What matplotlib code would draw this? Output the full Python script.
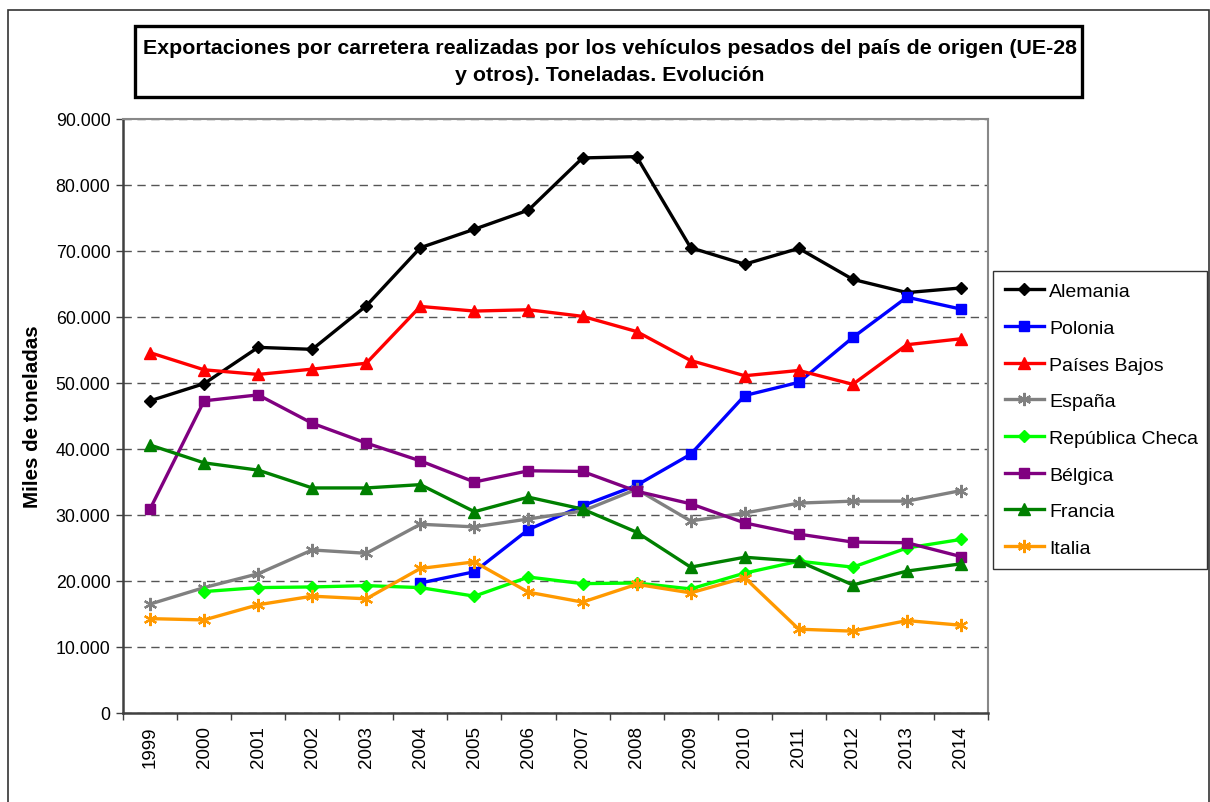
import matplotlib
matplotlib.use("Agg")
import matplotlib.pyplot as plt
from matplotlib.patches import Rectangle
from matplotlib.ticker import FuncFormatter, FixedLocator

plt.rcParams['font.family'] = ['Liberation Sans', 'DejaVu Sans']

years = ["1999", "2000", "2001", "2002", "2003", "2004", "2005", "2006",
         "2007", "2008", "2009", "2010", "2011", "2012", "2013", "2014"]

alemania = [47300, 49900, 55400, 55100, 61700, 70500, 73300, 76200,
            84100, 84300, 70500, 68000, 70400, 65700, 63700, 64400]
polonia = [None, None, None, None, None, 19700, 21400, 27800,
           31400, 34500, 39200, 48100, 50100, 56900, 63000, 61200]
paises_bajos = [54600, 52000, 51300, 52100, 53000, 61600, 60900, 61100,
                60100, 57800, 53400, 51100, 51900, 49800, 55800, 56700]
espana = [16500, 19000, 21100, 24700, 24200, 28600, 28200, 29400,
          30600, 33900, 29100, 30300, 31800, 32100, 32100, 33700]
rep_checa = [None, 18400, 19000, 19100, 19300, 19000, 17700, 20600,
             19600, 19700, 18800, 21200, 23000, 22100, 25000, 26300]
belgica = [30900, 47300, 48200, 43900, 40900, 38200, 35000, 36700,
           36600, 33600, 31700, 28800, 27100, 25900, 25800, 23700]
francia = [40600, 37900, 36800, 34100, 34100, 34600, 30500, 32700,
           30900, 27400, 22100, 23600, 23000, 19400, 21500, 22600]
italia = [14300, 14100, 16400, 17700, 17300, 21900, 22900, 18300,
          16800, 19500, 18200, 20500, 12700, 12400, 14000, 13300]

series = [
    ("Alemania", alemania, "#000000", "D", 6),
    ("Polonia", polonia, "#0000FF", "s", 7.5),
    ("Países Bajos", paises_bajos, "#FF0000", "^", 8),
    ("España", espana, "#808080", (6, 2, 0), 9.5),
    ("República Checa", rep_checa, "#00FF00", "D", 6),
    ("Bélgica", belgica, "#800080", "s", 7.5),
    ("Francia", francia, "#008000", "^", 8),
    ("Italia", italia, "#FF9900", (6, 2, 0), 9.5),
]

W, H = 1210, 803
fig = plt.figure(figsize=(W / 100, H / 100), dpi=100)

def fx(px):
    return px / W

def fy(py):
    return 1 - py / H

ax = fig.add_axes([fx(123), fy(714), fx(988) - fx(123), fy(120) - fy(714)])

x = list(range(len(years)))
handles = []
for name, vals, color, marker, ms in series:
    xs = [xi for xi, v in zip(x, vals) if v is not None]
    ys = [v for v in vals if v is not None]
    mew = 1.6 if isinstance(marker, tuple) else 1.0
    h, = ax.plot(xs, ys, color=color, lw=2.4, marker=marker, ms=ms,
                 markeredgecolor=color, markerfacecolor=color, mew=mew,
                 label=name, solid_joinstyle='round')
    handles.append(h)

ax.set_xlim(-0.5, len(years) - 0.5)
ax.set_ylim(0, 90000)
ax.yaxis.set_major_locator(FixedLocator(range(0, 90001, 10000)))
ax.yaxis.set_major_formatter(FuncFormatter(lambda v, p: f"{int(v):,}".replace(",", ".")))
ax.set_xticks(x)
ax.set_xticklabels(years, rotation=90, fontsize=13.5)
ax.set_xticks([i - 0.5 for i in range(len(years) + 1)], minor=True)
ax.tick_params(axis='x', which='major', length=0, pad=9)
ax.tick_params(axis='x', which='minor', length=5, width=1, color='#404040', direction='out')
ax.tick_params(axis='y', which='major', length=5, width=1, color='#404040', labelsize=12.8, pad=4)

ax.grid(axis='y', which='major', linestyle=(0, (6, 4)), color='#555555', lw=1)
ax.set_axisbelow(True)
for s in ['top', 'right']:
    ax.spines[s].set_color('#888888')
    ax.spines[s].set_linewidth(1.5)
for s in ['left', 'bottom']:
    ax.spines[s].set_color('#404040')
    ax.spines[s].set_linewidth(1.8)

ax.set_ylabel("Miles de toneladas", fontsize=14.8, fontweight='bold')
ax.yaxis.set_label_coords((42 - 123) / 865, 0.5)

# Outer frame
fig.patches.append(Rectangle((fx(8), -0.02), fx(1209) - fx(8), fy(11) + 0.02,
                             transform=fig.transFigure, fill=False,
                             edgecolor='#333333', lw=1.2))

# Title box
fig.patches.append(Rectangle((fx(135), fy(98)), fx(1082) - fx(135), fy(27) - fy(98),
                             transform=fig.transFigure, fill=False,
                             edgecolor='#000000', lw=2.4))
fig.text(fx(610), fy(62),
         "Exportaciones por carretera realizadas por los vehículos pesados del país de origen (UE-28\n"
         "y otros). Toneladas. Evolución",
         ha='center', va='center', fontsize=15.4, fontweight='bold', linespacing=1.55)

leg = fig.legend(handles=handles, loc='upper left',
                 bbox_to_anchor=(fx(993), fy(566), fx(1207) - fx(993), fy(272) - fy(566)),
                 mode='expand', borderaxespad=0, fontsize=14, frameon=True,
                 fancybox=False, edgecolor='#000000', handlelength=2.0,
                 handletextpad=0.3, labelspacing=0.98, borderpad=0.6)
leg.get_frame().set_linewidth(1.0)

fig.savefig("out.png", dpi=100)
